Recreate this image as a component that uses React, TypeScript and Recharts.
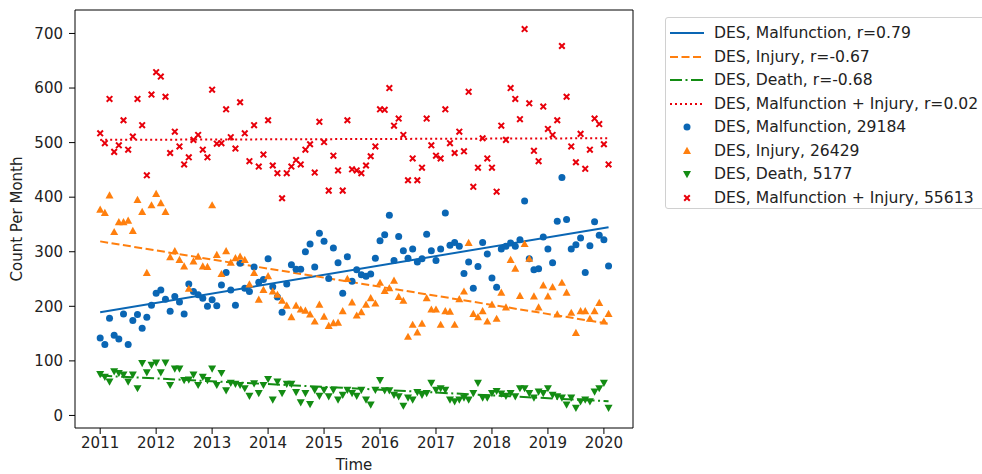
import React from "react";
import { ComposedChart, Scatter, Line, XAxis, YAxis, ReferenceLine } from "recharts";

const START_YEAR = 2011;
const YEAR_TICKS = [2011, 2012, 2013, 2014, 2015, 2016, 2017, 2018, 2019, 2020];
const COUNT_TICKS = [0, 100, 200, 300, 400, 500, 600, 700];

// monthly counts, Jan 2011 .. Feb 2020
const malfunction = [
  142, 130, 178, 147, 140, 186, 130, 174, 185, 160, 180, 202, 224, 230, 213, 191, 218, 208, 186, 241,
  227, 221, 215, 200, 212, 201, 239, 262, 230, 202, 279, 233, 227, 272, 244, 249, 287, 236, 217, 189,
  241, 276, 268, 268, 300, 314, 272, 334, 319, 251, 307, 280, 224, 291, 246, 267, 258, 255, 259, 288,
  320, 331, 367, 284, 328, 302, 288, 305, 281, 287, 332, 302, 284, 305, 371, 312, 317, 310, 260, 281,
  233, 273, 317, 296, 252, 235, 305, 310, 316, 310, 322, 393, 287, 267, 269, 327, 305, 280, 356, 436,
  359, 305, 313, 325, 262, 311, 355, 330, 322, 274,
];

const injury = [
  377, 371, 403, 336, 354, 354, 357, 338, 395, 373, 261, 385, 406, 389, 373, 290, 301, 285, 273, 232,
  282, 291, 273, 272, 385, 294, 259, 301, 280, 288, 291, 285, 240, 261, 212, 230, 255, 227, 221, 210,
  201, 180, 201, 194, 192, 185, 172, 203, 181, 164, 169, 170, 191, 250, 207, 183, 189, 203, 215, 205,
  243, 228, 233, 247, 217, 210, 144, 166, 152, 168, 215, 194, 194, 166, 191, 190, 166, 213, 227, 316,
  186, 180, 191, 172, 203, 177, 225, 198, 285, 269, 219, 314, 287, 218, 198, 238, 218, 235, 185, 243,
  225, 188, 151, 191, 191, 177, 191, 206, 172, 186,
];

const death = [
  76, 71, 62, 81, 78, 75, 62, 75, 50, 96, 79, 93, 97, 79, 97, 56, 86, 86, 65, 66,
  75, 56, 71, 65, 86, 56, 78, 46, 60, 58, 56, 50, 36, 59, 41, 56, 67, 29, 62, 41,
  58, 58, 43, 24, 41, 21, 47, 36, 47, 35, 47, 29, 38, 47, 41, 36, 47, 29, 20, 47,
  65, 46, 46, 38, 35, 18, 33, 29, 43, 38, 41, 60, 47, 50, 47, 29, 26, 29, 33, 29,
  41, 60, 33, 33, 41, 45, 40, 36, 41, 35, 50, 50, 41, 33, 44, 41, 50, 38, 35, 33,
  20, 33, 14, 26, 29, 26, 44, 50, 60, 14,
];

const combined = [
  517, 499, 580, 483, 495, 541, 487, 511, 580, 532, 440, 588, 629, 621, 584, 481, 520, 493, 460, 473,
  505, 514, 487, 473, 597, 498, 499, 561, 510, 489, 574, 517, 466, 532, 456, 478, 541, 458, 444, 398,
  444, 456, 468, 460, 487, 497, 445, 538, 501, 412, 476, 449, 412, 541, 451, 449, 444, 458, 475, 493,
  561, 560, 600, 531, 544, 514, 431, 471, 431, 454, 544, 495, 476, 471, 561, 499, 481, 520, 484, 593,
  419, 454, 508, 471, 454, 410, 531, 505, 600, 580, 543, 708, 572, 485, 466, 566, 525, 514, 541, 677,
  584, 493, 464, 516, 452, 487, 544, 534, 497, 460,
];

// least-squares trend, value at first and last month
const malfunctionFit = [189, 345];
const injuryFit = [319, 168];
const deathFit = [73, 26];
const combinedFit = [505, 508];

const BLUE = "#0a66b4";
const ORANGE = "#ff7f0e";
const GREEN = "#138c13";
const RED = "#e8000b";
const FONT = "DejaVu Sans";
const TEXT = "#222";

const toPoints = (vals: number[]) => vals.map((v, i) => ({ t: START_YEAR + i / 12, v }));
const fitPoints = (fit: number[], n: number) => [
  { t: START_YEAR, v: fit[0] },
  { t: START_YEAR + (n - 1) / 12, v: fit[1] },
];

const circle = (p: any) => (p.cx == null ? <g /> : <circle cx={p.cx} cy={p.cy} r={3.5} fill={BLUE} />);
const triUp = (p: any) =>
  p.cx == null ? <g /> : (
    <polygon points={`${p.cx},${p.cy - 4.2} ${p.cx - 4},${p.cy + 3} ${p.cx + 4},${p.cy + 3}`} fill={ORANGE} />
  );
const triDown = (p: any) =>
  p.cx == null ? <g /> : (
    <polygon points={`${p.cx},${p.cy + 4.2} ${p.cx - 4},${p.cy - 3} ${p.cx + 4},${p.cy - 3}`} fill={GREEN} />
  );
const cross = (p: any) =>
  p.cx == null ? <g /> : (
    <path
      d={`M${p.cx - 2.8},${p.cy - 2.8}L${p.cx + 2.8},${p.cy + 2.8}M${p.cx - 2.8},${p.cy + 2.8}L${p.cx + 2.8},${p.cy - 2.8}`}
      stroke={RED}
      strokeWidth={2}
    />
  );

const LEGEND_ITEMS = [
  { label: "DES, Malfunction, r=0.79", color: BLUE, kind: "line", dash: "" },
  { label: "DES, Injury, r=-0.67", color: ORANGE, kind: "line", dash: "8 3.5" },
  { label: "DES, Death, r=-0.68", color: GREEN, kind: "line", dash: "12 3.5 2 3.5" },
  { label: "DES, Malfunction + Injury, r=0.02", color: RED, kind: "line", dash: "2 3" },
  { label: "DES, Malfunction, 29184", color: BLUE, kind: "circle", dash: "" },
  { label: "DES, Injury, 26429", color: ORANGE, kind: "up", dash: "" },
  { label: "DES, Death, 5177", color: GREEN, kind: "down", dash: "" },
  { label: "DES, Malfunction + Injury, 55613", color: RED, kind: "cross", dash: "" },
];

function LegendHandle({ item }: { item: (typeof LEGEND_ITEMS)[number] }) {
  const c = 17;
  const y = 10;
  let mark;
  if (item.kind === "line")
    mark = <line x1={0} x2={34} y1={y} y2={y} stroke={item.color} strokeWidth={2} strokeDasharray={item.dash || undefined} />;
  else if (item.kind === "circle") mark = <circle cx={c} cy={y} r={3.5} fill={item.color} />;
  else if (item.kind === "up") mark = triUp({ cx: c, cy: y });
  else if (item.kind === "down") mark = triDown({ cx: c, cy: y });
  else mark = cross({ cx: c, cy: y });
  return (
    <svg width={36} height={20} style={{ position: "absolute", left: 4, top: -10 }}>
      {mark}
    </svg>
  );
}

function ChartLegend() {
  return (
    <div
      style={{
        position: "absolute",
        left: 665,
        top: 17,
        width: 340,
        height: 190,
        border: "1px solid #d0d0d0",
        borderRadius: 3,
        background: "#fff",
      }}
    >
      {LEGEND_ITEMS.map((item, i) => (
        <div key={item.label} style={{ position: "absolute", left: 0, top: 15 + i * 23.5, height: 0 }}>
          <LegendHandle item={item} />
          <span
            style={{
              position: "absolute",
              left: 48,
              top: -10,
              lineHeight: "20px",
              whiteSpace: "nowrap",
              fontSize: 15.6,
              fontFamily: FONT,
              color: TEXT,
            }}
          >
            {item.label}
          </span>
        </div>
      ))}
    </div>
  );
}

const X_DOMAIN = [2010.55, 2020.52];
const Y_DOMAIN = [-23, 743];
const tickStyle = { fontSize: 15, fontFamily: FONT, fill: TEXT };

export default function App() {
  const n = malfunction.length;
  return (
    <div
      style={{
        position: "absolute",
        left: 0,
        top: 0,
        width: 982,
        height: 474,
        overflow: "hidden",
        background: "#fff",
      }}
    >
      <ComposedChart width={982} height={474} margin={{ top: 10, right: 349, bottom: 0, left: 0 }}>
        <XAxis
          dataKey="t"
          type="number"
          domain={X_DOMAIN}
          ticks={YEAR_TICKS}
          allowDataOverflow
          height={46}
          tickSize={6}
          tickMargin={3}
          tick={tickStyle}
          stroke="#000"
          label={{
            content: (props: any) => {
              const vb = props.viewBox;
              return (
                <text x={vb.x + vb.width / 2} y={vb.y + 37} textAnchor="middle" dominantBaseline="central" fontSize={15} fontFamily={FONT} fill={TEXT}>
                  Time
                </text>
              );
            },
          }}
        />
        <YAxis
          type="number"
          domain={Y_DOMAIN}
          ticks={COUNT_TICKS}
          allowDataOverflow
          width={75}
          tickSize={6}
          tickMargin={6}
          tick={tickStyle}
          stroke="#000"
          label={{
            content: (props: any) => {
              const vb = props.viewBox;
              const x = vb.x + 17;
              const y = vb.y + vb.height / 2;
              return (
                <text x={x} y={y} transform={`rotate(-90 ${x} ${y})`} textAnchor="middle" dominantBaseline="central" fontSize={15} fontFamily={FONT} fill={TEXT}>
                  Count Per Month
                </text>
              );
            },
          }}
        />
        {/* top and right spines of the axes box */}
        <ReferenceLine y={Y_DOMAIN[1]} stroke="#000" strokeWidth={1} ifOverflow="visible" />
        <ReferenceLine x={X_DOMAIN[1]} stroke="#000" strokeWidth={1} ifOverflow="visible" />

        <Scatter data={toPoints(malfunction)} dataKey="v" shape={circle} isAnimationActive={false} />
        <Scatter data={toPoints(injury)} dataKey="v" shape={triUp} isAnimationActive={false} />
        <Scatter data={toPoints(death)} dataKey="v" shape={triDown} isAnimationActive={false} />
        <Scatter data={toPoints(combined)} dataKey="v" shape={cross} isAnimationActive={false} />

        <Line data={fitPoints(malfunctionFit, n)} dataKey="v" type="linear" stroke={BLUE} strokeWidth={2} dot={false} isAnimationActive={false} />
        <Line data={fitPoints(injuryFit, n)} dataKey="v" type="linear" stroke={ORANGE} strokeWidth={2} strokeDasharray="8 3.5" dot={false} isAnimationActive={false} />
        <Line data={fitPoints(deathFit, n)} dataKey="v" type="linear" stroke={GREEN} strokeWidth={2} strokeDasharray="12 3.5 2 3.5" dot={false} isAnimationActive={false} />
        <Line data={fitPoints(combinedFit, n)} dataKey="v" type="linear" stroke={RED} strokeWidth={2} strokeDasharray="2 3" dot={false} isAnimationActive={false} />
      </ComposedChart>
      <ChartLegend />
    </div>
  );
}
